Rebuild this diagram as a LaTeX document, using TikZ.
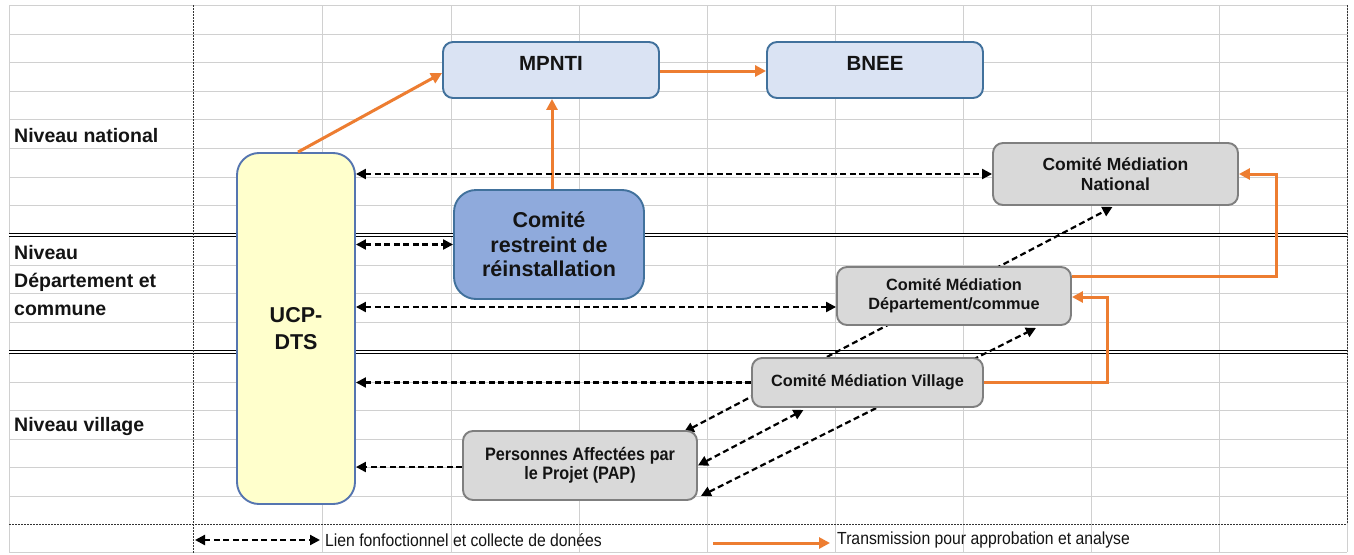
\documentclass[tikz,border=0pt]{standalone}
\usepackage{fontspec}
\setmainfont{Liberation Sans}
\newfontfamily\narrowfont[FakeStretch=0.9]{Liberation Sans}
\usetikzlibrary{arrows.meta,calc}

\pgfdeclarelayer{gridlayer}
\pgfdeclarelayer{behind}
\pgfsetlayers{gridlayer,behind,main}

\definecolor{gridgrey}{HTML}{D0D0D0}
\definecolor{orangeline}{HTML}{ED7D31}
\definecolor{paleblue}{HTML}{DAE3F3}
\definecolor{steelblue}{HTML}{41719C}
\definecolor{midblue}{HTML}{8FAADC}
\definecolor{paleyellow}{HTML}{FFFFCC}
\definecolor{boxgrey}{HTML}{D9D9D9}
\definecolor{edgegrey}{HTML}{7F7F7F}
\definecolor{ucpedge}{HTML}{5575B0}
\definecolor{inktext}{HTML}{141414}

\tikzset{
  gridline/.style={draw=gridgrey, line width=0.9pt},
  sepline/.style={draw=black, double=white, double distance=1.6pt, line width=0.9pt},
  dotline/.style={draw=black!80, line width=0.8pt, dash pattern=on 1.5pt off 1.5pt},
  box/.style={rounded corners=10pt, line width=1.9pt, align=center, inner sep=0pt, text=inktext},
  natbox/.style={box, fill=paleblue, draw=steelblue, minimum width=216pt, minimum height=56pt,
    text height=14pt, text depth=14pt, font=\bfseries\fontsize{20.5}{24}\selectfont},
  ucpbox/.style={box, rounded corners=22pt, fill=paleyellow, draw=ucpedge, minimum width=118pt,
    minimum height=351pt, font=\bfseries\fontsize{21.5}{27}\selectfont},
  restbox/.style={box, rounded corners=22pt, fill=midblue, draw=steelblue, minimum width=190pt,
    minimum height=109pt, font=\bfseries\fontsize{21.5}{24.5}\selectfont},
  medbox/.style={box, fill=boxgrey, draw=edgegrey, font=\bfseries\fontsize{16.3}{19}\selectfont},
  levellabel/.style={anchor=west, align=left, inner sep=0pt, text=inktext,
    font=\bfseries\fontsize{19.5}{28}\selectfont},
  legendtext/.style={anchor=west, inner sep=0pt, text=inktext, font=\narrowfont\fontsize{17.5}{20}\selectfont},
  linkline/.style={draw=black, line width=2.2pt, dash pattern=on 6pt off 3.5pt},
  linkboth/.style={linkline, {Triangle[length=10pt,width=10pt]}-{Triangle[length=10pt,width=10pt]}},
  linkone/.style={linkline, -{Triangle[length=10pt,width=10pt]}},
  transmit/.style={draw=orangeline, line width=3pt, -{Triangle[length=11pt,width=11pt]}}
}

\begin{document}
\begin{tikzpicture}[x=1pt,y=-1pt]
\useasboundingbox (0,0) rectangle (1354,554);

% sheet grid, level separators and frame
\begin{pgfonlayer}{gridlayer}
  \fill[white] (0,0) rectangle (1354,554);
  \foreach \y in {5,34,62,91,119,148,177,205,265,293,322,382,410,439,467,496,552}
    \draw[gridline] (9,\y) -- (1347,\y);
  \foreach \x in {9,322,451,579,707,835,963,1091,1219,1347}
    \draw[gridline] (\x,5) -- (\x,552);
  \draw[sepline] (9,235) -- (1347,235);
  \draw[sepline] (9,352) -- (1347,352);
  \draw[dotline] (193,5) -- (193,554);
  \draw[dotline] (9,524) -- (1347,524);
  \draw[dotline] (1347,5) -- (1347,524);
\end{pgfonlayer}

% level labels
\node[levellabel] (lnat) at (14,136) {Niveau national};
\node[levellabel] (ldep) at (14,281) {Niveau\\Département et\\commune};
\node[levellabel] (lvil) at (14,426) {Niveau village};

% structures
\node[natbox] (mpnti) at (551,70) {MPNTI};
\node[natbox] (bnee) at (875,70) {BNEE};
\node[ucpbox] (ucp) at (296,328.5) {UCP-\\DTS};
\node[restbox] (restreint) at (549,244.5) {Comité\\restreint de\\réinstallation};
\node[medbox, minimum width=245pt, minimum height=62pt,
      font=\bfseries\fontsize{17.5}{20}\selectfont] (cmn) at (1115.5,174) {Comité Médiation\\National};
\node[medbox, minimum width=234pt, minimum height=58pt] (dept) at (954,296) {Comité Médiation\\Département/commue};
\node[medbox, minimum width=231pt, minimum height=49pt] (vil) at (867.5,382.5) {Comité Médiation Village};
\node[medbox, minimum width=234pt, minimum height=69pt,
      font=\narrowfont\bfseries\fontsize{18}{19}\selectfont] (pap) at (580,465.5) {Personnes Affectées par\\le Projet (PAP)};

% transmission for approval
\draw[transmit] ($(ucp.north)+(2,0)$) -- ($(mpnti.west)+(0,3)$);
\draw[transmit] ($(mpnti.east)+(0,1)$) -- ($(bnee.west)+(0,1)$);
\draw[transmit] ($(restreint.north)+(3,0)$) -- ($(mpnti.south)+(1,0)$);
\draw[transmit] ($(dept.east)+(0,-20)$) -| ($(cmn.east)+(38,0)$) -- (cmn.east);
\draw[transmit] (vil.east) -| ($(dept.east)+(36,1)$) -- ($(dept.east)+(0,1)$);

% functional links and data collection
\coordinate (dl) at ($(dept.west)+(0,11)$);
\draw[linkboth] (ucp.east |- cmn.west) -- (cmn.west);
\draw[linkboth] (ucp.east |- restreint.west) -- (restreint.west);
\draw[linkboth] (ucp.east |- dl) -- (dl);
\draw[linkone] (vil.west) -- (ucp.east |- vil.west);
\draw[linkone] ($(pap.west)+(0,1.5)$) -- ($(ucp.east |- pap.west)+(0,1.5)$);
\begin{pgfonlayer}{behind}
  \draw[linkboth] ($(pap.north east)+(-14,2)$) -- ($(cmn.south)+(-3,1)$);
  \draw[linkboth] ($(pap.south east)+(3,-5)$) -- ($(dept.south east)+(-36,2)$);
\end{pgfonlayer}
\draw[linkboth] (pap.east) -- ($(vil.south)+(-64,2)$);

% legend
\coordinate (la) at (195,540);
\coordinate (lb) at (320,540);
\draw[linkboth] (la) -- (lb);
\node[legendtext] (ltxt) at (325,540) {Lien fonfoctionnel et collecte de donées};
\coordinate (ta) at (713,543);
\coordinate (tb) at (830,543);
\draw[transmit] (ta) -- (tb);
\node[legendtext] (ttxt) at (837,540) {Transmission pour approbation et analyse};
\end{tikzpicture}
\end{document}
